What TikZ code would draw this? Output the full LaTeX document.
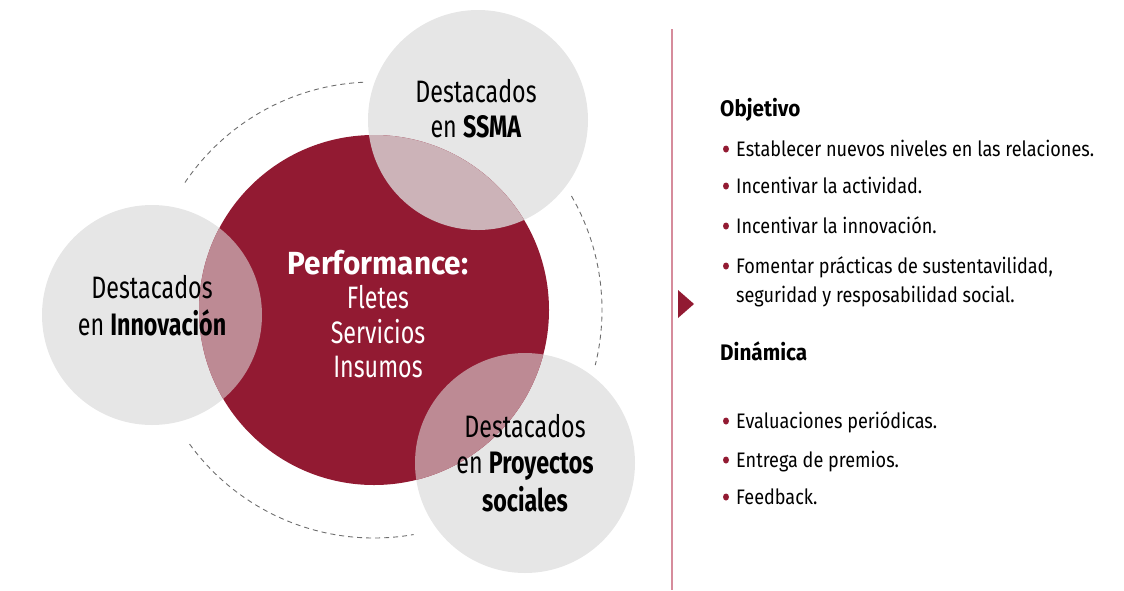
\documentclass[tikz,border=0pt]{standalone}
\usepackage{fontspec}
\usetikzlibrary{shapes.geometric}
\setmainfont{Fira Sans}[FakeStretch=0.86]
\newfontfamily\circfont{Fira Sans}[FakeStretch=0.75]
\newfontfamily\perffont{Fira Sans}[FakeStretch=0.93]
\newfontfamily\headfont{Fira Sans}[FakeStretch=0.92]
\definecolor{wine}{RGB}{146,26,50}
\definecolor{lgrey}{RGB}{230,230,230}
\definecolor{pinkA}{RGB}{189,138,148}
\definecolor{pinkB}{RGB}{204,179,184}
\definecolor{rule}{RGB}{214,140,156}
\definecolor{dashgrey}{RGB}{110,110,110}
\begin{document}
\begin{tikzpicture}[x=1pt,y=-1pt,
  ring/.style={draw=dashgrey,line width=0.9pt,dash pattern=on 5pt off 4pt},
  ctext/.style={font=\circfont\fontsize{31}{36}\selectfont,align=center,inner sep=0pt,anchor=base},
  head/.style={font=\headfont\bfseries\fontsize{22.5}{26}\selectfont,anchor=base west,inner sep=0pt},
  item/.style={font=\fontsize{21}{29}\selectfont,anchor=base west,inner sep=0pt},
  dot/.style={fill=wine,ellipse,inner sep=0pt,minimum width=6pt,minimum height=7pt}]
\useasboundingbox (0,0) rectangle (1124,590);
% dashed ring arcs (centre 374,310, r 228); y axis points down, so angles are negated
\draw[ring] (374,310) ++(-146:228) arc[start angle=-146,end angle=-92,radius=228];
\draw[ring] (374,310) ++(-30:228) arc[start angle=-30,end angle=14,radius=228];
\draw[ring] (374,310) ++(-216:228) arc[start angle=-216,end angle=-280,radius=228];
% circles
\fill[lgrey] (478,120) circle[radius=110];
\fill[lgrey] (152,315) circle[radius=110];
\fill[lgrey] (525,463) circle[radius=110];
\fill[wine] (374,310) circle[radius=175];
\begin{scope}
\clip (374,310) circle[radius=175];
\fill[pinkB] (478,120) circle[radius=110];
\fill[pinkA] (152,315) circle[radius=110];
\fill[pinkA] (525,463) circle[radius=110];
\end{scope}
% circle texts
\node[ctext] (ssma1) at (476,102) {Destacados};
\node[ctext] (ssma2) at (476,137) {en \textbf{SSMA}};
\node[ctext] (inn1) at (152,298) {Destacados};
\node[ctext] (inn2) at (152,335) {en \textbf{Innovación}};
\node[ctext] (pro1) at (525,437) {Destacados};
\node[ctext] (pro2) at (525,473) {en \textbf{Proyectos}};
\node[ctext] (pro3) at (525,511) {\textbf{sociales}};
\node[ctext,text=white,font=\perffont\bfseries\fontsize{32}{36}\selectfont] (perf) at (378,274) {Performance:};
\node[ctext,text=white] (f1) at (378,308) {Fletes};
\node[ctext,text=white] (f2) at (378,343) {Servicios};
\node[ctext,text=white] (f3) at (378,377) {Insumos};
% right panel
\coordinate (rt) at (672,29);
\coordinate (rb) at (672,590);
\draw[rule,line width=2pt] (rt) -- (rb);
\fill[wine] (678,290) -- (694,304) -- (678,318) -- cycle;
\node[head] (obj) at (720,116) {Objetivo};
\node[dot] (d1) at (726,149) {};
\node[item] (o1) at (736,156) {Establecer nuevos niveles en las relaciones.};
\node[dot] (d2) at (726,186) {};
\node[item] (o2) at (736,193) {Incentivar la actividad.};
\node[dot] (d3) at (726,226) {};
\node[item] (o3) at (736,233) {Incentivar la innovación.};
\node[dot] (d4) at (726,266) {};
\node[item] (o4) at (736,273) {Fomentar prácticas de sustentavilidad,};
\node[item] (o4b) at (736,302) {seguridad y resposabilidad social.};
\node[head] (din) at (720,360) {Dinámica};
\node[dot] (d5) at (726,421) {};
\node[item] (e1) at (736,428) {Evaluaciones periódicas.};
\node[dot] (d6) at (726,460) {};
\node[item] (e2) at (736,467) {Entrega de premios.};
\node[dot] (d7) at (726,497) {};
\node[item] (e3) at (736,504) {Feedback.};
\end{tikzpicture}
\end{document}
